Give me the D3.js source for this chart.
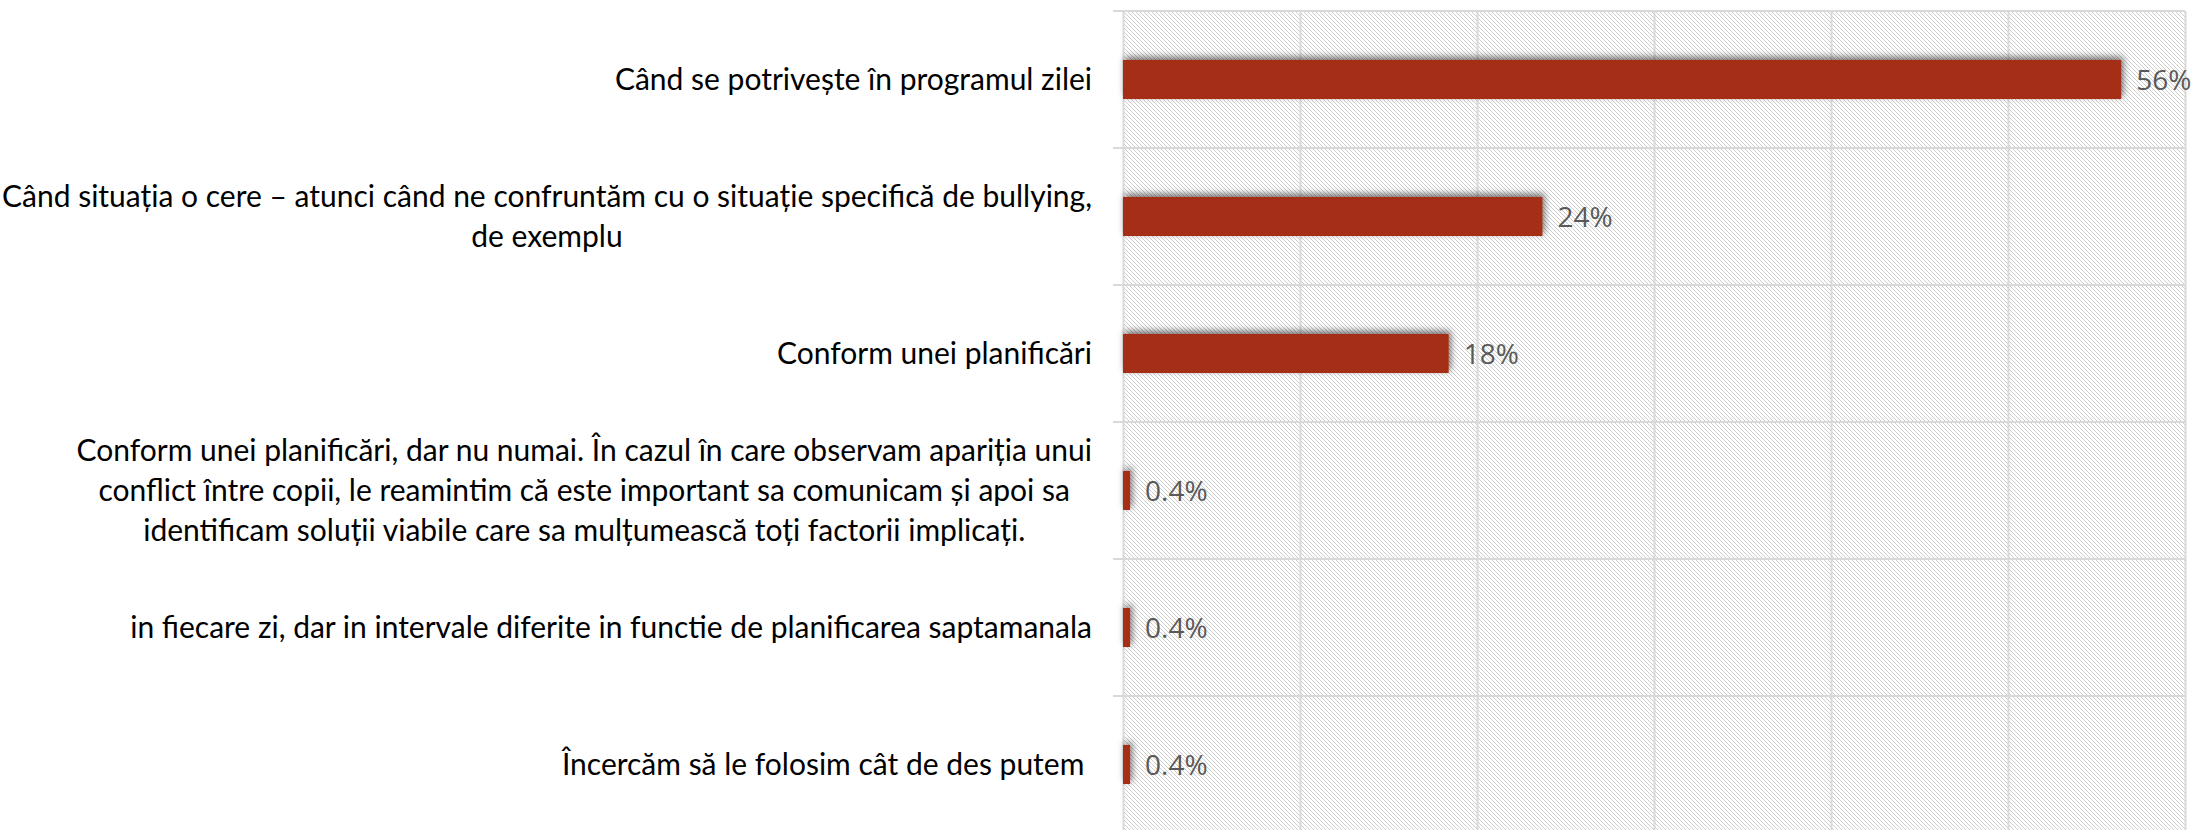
<!DOCTYPE html>
<html><head><meta charset="utf-8">
<script src="https://cdn.jsdelivr.net/npm/d3@7"></script>
<style>body{margin:0;background:#fff;overflow:hidden}</style>
</head><body><svg id="c" width="2196" height="830"></svg>
<script>
// ---- data ----
const categories = [
  ["Când se potrivește în programul zilei"],
  ["Când situația o cere – atunci când ne confruntăm cu o situație specifică de bullying,", "de exemplu"],
  ["Conform unei planificări"],
  ["Conform unei planificări, dar nu numai. În cazul în care observam apariția unui",
   "conflict între copii, le reamintim că este important sa comunicam și apoi sa",
   "identificam soluții viabile care sa mulțumească toți factorii implicați."],
  ["in fiecare zi, dar in intervale diferite in functie de planificarea saptamanala"],
  ["Încercăm să le folosim cât de des putem "]
];
const values = [0.564, 0.237, 0.184, 0.004, 0.004, 0.004];
const xTicks = [0, 0.1, 0.2, 0.3, 0.4, 0.5, 0.6];

// ---- layout ----
const W = 2196, H = 830;
const plot = {left: 1123, right: 2185, top: 11, bottom: 833};
const labelRight = 1092;
const catFont = "Lato, 'Open Sans', sans-serif";
const valFont = "'Open Sans', sans-serif";

const svg = d3.select("#c");
const defs = svg.append("defs");
const pat = defs.append("pattern").attr("id", "hatch")
  .attr("patternUnits", "userSpaceOnUse").attr("width", 4).attr("height", 4);
pat.append("rect").attr("width", 4).attr("height", 4).attr("fill", "#fff");
pat.append("path").attr("d", "M-1,-1L5,5M-1,3L1,5M3,-1L5,1")
  .attr("stroke", "#cdcdcd").attr("stroke-width", 1).attr("shape-rendering", "crispEdges");

const filt = defs.append("filter").attr("id", "sh").attr("filterUnits", "userSpaceOnUse")
  .attr("x", 0).attr("y", 0).attr("width", W).attr("height", H);
filt.append("feDropShadow").attr("dx", 2).attr("dy", -3).attr("stdDeviation", 3.5)
  .attr("flood-color", "#000").attr("flood-opacity", 0.55);

const x = d3.scaleLinear().domain([0, 0.6]).range([plot.left, plot.right]);
const idx = d3.range(categories.length);
const yRow = d3.scaleBand().domain(idx).range([plot.top, plot.bottom]).padding(0);
const yBar = d3.scaleBand().domain(idx).range([plot.top, plot.bottom])
  .paddingInner(0.715).paddingOuter(0.3575);

// plot background
svg.append("rect").attr("x", plot.left).attr("y", plot.top)
  .attr("width", plot.right - plot.left).attr("height", plot.bottom - plot.top)
  .attr("fill", "url(#hatch)");

// vertical gridlines
const grid = svg.append("g").attr("transform", `translate(0,${plot.top})`)
  .call(d3.axisTop(x).tickValues(xTicks).tickSize(-(plot.bottom - plot.top)).tickFormat(""));
grid.select(".domain").remove();
grid.selectAll("line").attr("stroke", "#d9d9d9").attr("stroke-width", 2);

// horizontal category separators (with outside tick marks)
svg.append("g").selectAll("line").data(idx.concat([idx.length])).join("line")
  .attr("x1", plot.left - 10).attr("x2", plot.right)
  .attr("y1", d => d < idx.length ? yRow(d) : plot.bottom)
  .attr("y2", d => d < idx.length ? yRow(d) : plot.bottom)
  .attr("stroke", "#d9d9d9").attr("stroke-width", 2);

// bars
svg.append("g").selectAll("rect").data(values).join("rect")
  .attr("x", x(0)).attr("y", (d, i) => yBar(i))
  .attr("width", d => x(d) - x(0)).attr("height", yBar.bandwidth())
  .attr("fill", "#a52f12").attr("filter", "url(#sh)");

// value labels
const fmt = v => v < 0.01 ? d3.format(".1%")(v) : d3.format(".0%")(v);
svg.append("g").selectAll("text").data(values).join("text")
  .attr("x", d => x(d) + 15)
  .attr("y", (d, i) => yRow(i) + yRow.bandwidth() / 2 + 10)
  .attr("font-family", valFont).attr("font-size", 28).attr("fill", "#595959")
  .text(fmt);

// category label font size fitted to the reference width of the first label
const probe = svg.append("text").attr("font-family", catFont).attr("font-size", 100)
  .text(categories[0][0]);
const fs = 1.02 * 100 * 468 / probe.node().getComputedTextLength();
probe.remove();
const lineH = 40;

const cat = svg.append("g").attr("font-family", catFont).attr("font-size", fs)
  .attr("fill", "#000");
categories.forEach((lines, i) => {
  const g = cat.append("g");
  const texts = g.selectAll("text").data(lines).join("text")
    .attr("xml:space", "preserve").style("white-space", "pre").text(d => d);
  const widths = texts.nodes().map(n => n.getComputedTextLength());
  const bw = d3.max(widths);
  const cy = yRow(i) + yRow.bandwidth() / 2;
  texts.attr("text-anchor", "middle")
    .attr("x", labelRight - bw / 2)
    .attr("y", (d, k) => cy + (k - (lines.length - 1) / 2) * lineH + 0.34 * fs);
});
</script>
</body></html>
